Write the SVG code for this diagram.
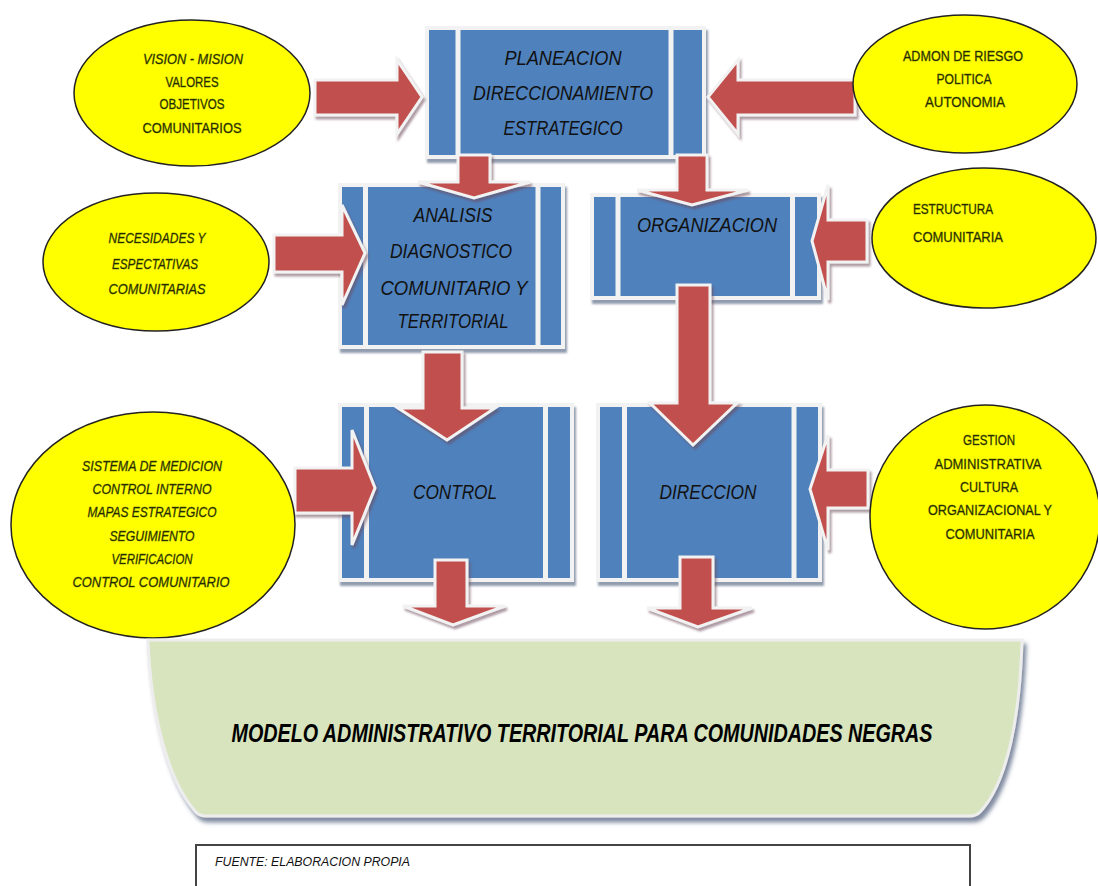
<svg xmlns="http://www.w3.org/2000/svg" width="1098" height="886" viewBox="0 0 1098 886">
  <defs>
    <filter id="boxShadow" x="-10%" y="-10%" width="125%" height="130%">
      <feDropShadow dx="2" dy="4" stdDeviation="1.2" flood-color="#4a5a78" flood-opacity="0.6"/>
    </filter>
    <filter id="arrowShadow" x="-20%" y="-20%" width="150%" height="150%">
      <feDropShadow dx="2" dy="3" stdDeviation="1" flood-color="#6d4a5a" flood-opacity="0.55"/>
    </filter>
    <filter id="tapeShadow" x="-5%" y="-5%" width="112%" height="120%">
      <feDropShadow dx="3" dy="5" stdDeviation="2" flood-color="#4a5a78" flood-opacity="0.7"/>
    </filter>
  </defs>
  <style>
    .box { fill: #4F81BD; stroke: #F2F2F2; stroke-width: 4; filter: url(#boxShadow); }
    .bar { stroke: #F2F2F2; stroke-width: 5; }
    .btxt { font-family: "Liberation Sans Narrow", "Liberation Sans", sans-serif; font-size: 21px; font-style: italic; fill: #111; text-anchor: middle; }
    .ell { fill: #FFFF00; stroke: #222; stroke-width: 1.5; }
    .etxt { font-family: "Liberation Sans Narrow", "Liberation Sans", sans-serif; font-size: 14px; fill: #1a1a00; stroke: #4d5c00; stroke-width: 0.35; text-anchor: middle; }
    .it { font-style: italic; }
    .start { text-anchor: start; }
    .arrow { fill: #C0504D; stroke: #F2F2F2; stroke-width: 3; stroke-linejoin: miter; filter: url(#arrowShadow); }
    .tape { fill: #D7E4BD; stroke: #EDEDED; stroke-width: 3; filter: url(#tapeShadow); }
    .mtxt { font-family: "Liberation Sans Narrow", "Liberation Sans", sans-serif; font-size: 21px; font-weight: bold; font-style: italic; fill: #000; text-anchor: middle; }
    .ftxt { font-family: "Liberation Sans Narrow", "Liberation Sans", sans-serif; font-size: 12px; font-style: italic; fill: #111; }
  </style>

  <rect width="1098" height="886" fill="#FFFFFF"/>

  <!-- Process boxes -->
  <g id="planeacion">
    <rect class="box" x="427" y="28" width="277" height="129"/>
    <line class="bar" x1="458" y1="30" x2="458" y2="155"/>
    <line class="bar" x1="671" y1="30" x2="671" y2="155"/>
    <text class="btxt" x="563" y="65" textLength="117" lengthAdjust="spacingAndGlyphs">PLANEACION</text>
    <text class="btxt" x="563" y="100" textLength="180" lengthAdjust="spacingAndGlyphs">DIRECCIONAMIENTO</text>
    <text class="btxt" x="563" y="135" textLength="119" lengthAdjust="spacingAndGlyphs">ESTRATEGICO</text>
  </g>

  <g id="analisis">
    <rect class="box" x="340" y="185" width="223" height="162"/>
    <line class="bar" x1="365.5" y1="187" x2="365.5" y2="345"/>
    <line class="bar" x1="538" y1="187" x2="538" y2="345"/>
    <text class="btxt" x="453" y="222" textLength="79" lengthAdjust="spacingAndGlyphs">ANALISIS</text>
    <text class="btxt" x="451" y="258" textLength="122" lengthAdjust="spacingAndGlyphs">DIAGNOSTICO</text>
    <text class="btxt" x="454" y="295" textLength="147" lengthAdjust="spacingAndGlyphs">COMUNITARIO Y</text>
    <text class="btxt" x="453" y="328" textLength="111" lengthAdjust="spacingAndGlyphs">TERRITORIAL</text>
  </g>

  <g id="organizacion">
    <rect class="box" x="592" y="195" width="227" height="103"/>
    <line class="bar" x1="618" y1="197" x2="618" y2="296"/>
    <line class="bar" x1="792.5" y1="197" x2="792.5" y2="296"/>
    <text class="btxt" x="707" y="232" textLength="140" lengthAdjust="spacingAndGlyphs">ORGANIZACION</text>
  </g>

  <g id="control">
    <rect class="box" x="340" y="405" width="232" height="175"/>
    <line class="bar" x1="366.5" y1="407" x2="366.5" y2="578"/>
    <line class="bar" x1="545.5" y1="407" x2="545.5" y2="578"/>
    <text class="btxt" x="455" y="499" textLength="84" lengthAdjust="spacingAndGlyphs">CONTROL</text>
  </g>

  <g id="direccion">
    <rect class="box" x="598" y="405" width="222" height="175"/>
    <line class="bar" x1="624.5" y1="407" x2="624.5" y2="578"/>
    <line class="bar" x1="794" y1="407" x2="794" y2="578"/>
    <text class="btxt" x="708" y="499" textLength="97" lengthAdjust="spacingAndGlyphs">DIRECCION</text>
  </g>

  <!-- Block arrows between the elements -->
  <g id="connectors">
    <polygon class="arrow" points="315,80 397,80 397,60 422,97 397,134 397,115 315,115"/>
    <polygon class="arrow" points="855,80 738,80 738,60 708,97 738,134 738,115 855,115"/>
    <polygon class="arrow" points="458,155 490,155 490,182 530,182 474,198 418,182 458,182"/>
    <polygon class="arrow" points="677,155 707,155 707,190 748,190 692,205 637,190 677,190"/>
    <polygon class="arrow" points="274,235 342,235 342,205 365,253 342,305 342,272 274,272"/>
    <polygon class="arrow" points="867,220 828,220 828,185 812,241 828,300 828,262 867,262"/>
    <polygon class="arrow" points="677,285 710,285 710,403 737,403 693,445 650,403 677,403"/>
    <polygon class="arrow" points="423,352 462,352 462,408 495,408 447,440 398,408 423,408"/>
    <polygon class="arrow" points="295,468 352,468 352,430 375,488 352,545 352,513 295,513"/>
    <polygon class="arrow" points="868,470 828,470 828,435 810,489 828,550 828,508 868,508"/>
    <polygon class="arrow" points="435,560 467,560 467,606 505,606 453,625 403,606 435,606"/>
    <polygon class="arrow" points="680,557 713,557 713,608 752,608 698,627 647,608 680,608"/>
  </g>

  <!-- Input ellipses -->
  <g id="vision-mision">
    <ellipse class="ell" cx="192" cy="93" rx="118" ry="73"/>
    <text class="etxt it" x="193" y="64" textLength="100" lengthAdjust="spacingAndGlyphs">VISION - MISION</text>
    <text class="etxt" x="192" y="87" textLength="53" lengthAdjust="spacingAndGlyphs">VALORES</text>
    <text class="etxt" x="192" y="109" textLength="65" lengthAdjust="spacingAndGlyphs">OBJETIVOS</text>
    <text class="etxt" x="192" y="133" textLength="99" lengthAdjust="spacingAndGlyphs">COMUNITARIOS</text>
  </g>

  <g id="admon-riesgo">
    <ellipse class="ell" cx="965" cy="84" rx="112" ry="69"/>
    <text class="etxt" x="963" y="61" textLength="120" lengthAdjust="spacingAndGlyphs">ADMON DE RIESGO</text>
    <text class="etxt" x="964" y="84" textLength="55" lengthAdjust="spacingAndGlyphs">POLITICA</text>
    <text class="etxt" x="965" y="107" textLength="80" lengthAdjust="spacingAndGlyphs">AUTONOMIA</text>
  </g>

  <g id="necesidades">
    <ellipse class="ell" cx="156" cy="262" rx="113" ry="69"/>
    <text class="etxt it" x="157" y="243" textLength="97" lengthAdjust="spacingAndGlyphs">NECESIDADES Y</text>
    <text class="etxt it" x="155" y="269" textLength="86" lengthAdjust="spacingAndGlyphs">ESPECTATIVAS</text>
    <text class="etxt it" x="157" y="294" textLength="97" lengthAdjust="spacingAndGlyphs">COMUNITARIAS</text>
  </g>

  <g id="estructura">
    <ellipse class="ell" cx="984" cy="238" rx="112" ry="70"/>
    <text class="etxt start" x="913" y="214" textLength="80" lengthAdjust="spacingAndGlyphs">ESTRUCTURA</text>
    <text class="etxt start" x="913" y="242" textLength="90" lengthAdjust="spacingAndGlyphs">COMUNITARIA</text>
  </g>

  <g id="sistema-medicion">
    <ellipse class="ell" cx="153" cy="525" rx="142" ry="113"/>
    <text class="etxt it" x="152" y="471" textLength="140" lengthAdjust="spacingAndGlyphs">SISTEMA DE MEDICION</text>
    <text class="etxt it" x="152" y="494" textLength="119" lengthAdjust="spacingAndGlyphs">CONTROL INTERNO</text>
    <text class="etxt it" x="152" y="517" textLength="129" lengthAdjust="spacingAndGlyphs">MAPAS ESTRATEGICO</text>
    <text class="etxt it" x="152" y="541" textLength="85" lengthAdjust="spacingAndGlyphs">SEGUIMIENTO</text>
    <text class="etxt it" x="152" y="564" textLength="81" lengthAdjust="spacingAndGlyphs">VERIFICACION</text>
    <text class="etxt it" x="151" y="587" textLength="157" lengthAdjust="spacingAndGlyphs">CONTROL  COMUNITARIO</text>
  </g>

  <g id="gestion">
    <ellipse class="ell" cx="985" cy="517" rx="115" ry="112"/>
    <text class="etxt" x="989" y="445" textLength="52" lengthAdjust="spacingAndGlyphs">GESTION</text>
    <text class="etxt" x="988" y="469" textLength="107" lengthAdjust="spacingAndGlyphs">ADMINISTRATIVA</text>
    <text class="etxt" x="989" y="492" textLength="58" lengthAdjust="spacingAndGlyphs">CULTURA</text>
    <text class="etxt" x="990" y="515" textLength="124" lengthAdjust="spacingAndGlyphs">ORGANIZACIONAL Y</text>
    <text class="etxt" x="990" y="539" textLength="89" lengthAdjust="spacingAndGlyphs">COMUNITARIA</text>
  </g>

  <!-- Resulting model -->
  <g id="modelo">
    <path class="tape" d="M148,640 L1022,640 C1020,715 1008,782 980,812 Q976,816 970,816 L206,816 Q199,816 195,811 C168,780 151,715 148,640 Z"/>
    <text class="mtxt" transform="translate(582,742) scale(1,1.22)" x="0" y="0" textLength="701" lengthAdjust="spacingAndGlyphs">MODELO ADMINISTRATIVO TERRITORIAL PARA COMUNIDADES NEGRAS</text>
  </g>

  <!-- Source note -->
  <g id="fuente">
    <rect x="196" y="845" width="774" height="50" fill="#FFFFFF" stroke="#444" stroke-width="2"/>
    <text class="ftxt" x="215" y="866" textLength="195" lengthAdjust="spacingAndGlyphs">FUENTE:  ELABORACION PROPIA</text>
  </g>
</svg>
